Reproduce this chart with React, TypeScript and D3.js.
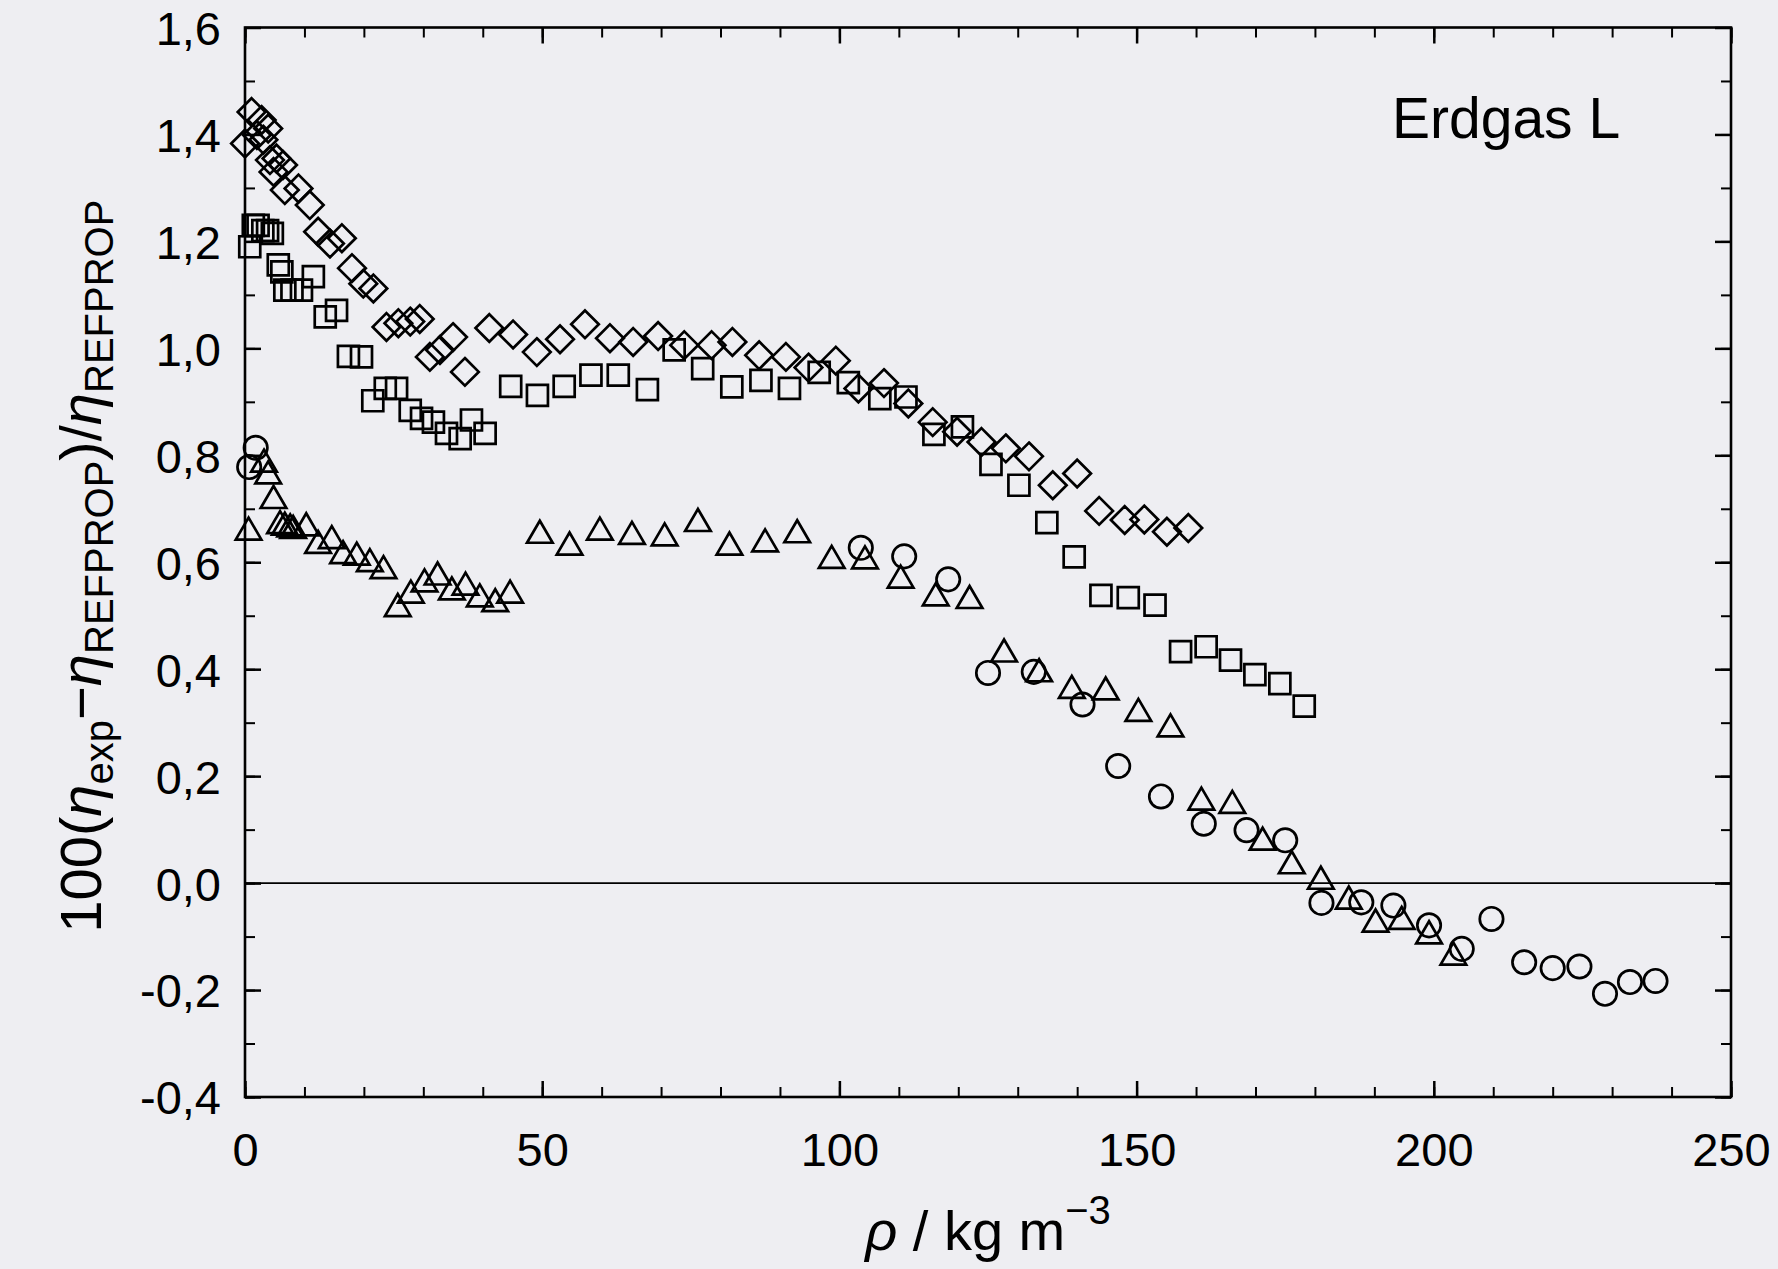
import * as d3 from "d3";
import React, { useEffect, useRef } from "react";

// Diamonds
const diamondRho = [0, 1.1, 2.0, 2.8, 3.1, 3.9, 4.2, 4.8, 5.3, 6.4, 6.7, 9.0, 10.9, 12.3, 14.3, 16.3, 18.0, 19.9, 21.6, 23.8, 25.8, 27.8, 29.4, 31.1, 32.8, 35.0, 37.0, 41.1, 45.1, 49.1, 53.0, 57.2, 61.4, 65.3, 69.5, 73.9, 78.5, 82.0, 86.5, 91.0, 94.8, 99.4, 103.2, 107.5, 111.6, 115.7, 119.8, 123.9, 128.0, 131.9, 135.9, 140.0, 143.7, 148.0, 151.3, 155.1, 158.7];
const diamondDev = [1.383, 1.442, 1.399, 1.427, 1.39, 1.411, 1.352, 1.33, 1.355, 1.343, 1.296, 1.299, 1.268, 1.218, 1.196, 1.206, 1.15, 1.121, 1.112, 1.04, 1.047, 1.05, 1.055, 0.984, 0.997, 1.021, 0.956, 1.038, 1.026, 0.993, 1.017, 1.045, 1.019, 1.012, 1.023, 1.006, 1.006, 1.012, 0.987, 0.984, 0.964, 0.977, 0.925, 0.935, 0.897, 0.862, 0.844, 0.825, 0.813, 0.798, 0.744, 0.766, 0.696, 0.679, 0.68, 0.657, 0.664];

// Squares
const squareRho = [0.8, 1.4, 2.2, 3.0, 3.8, 4.6, 5.6, 6.2, 6.7, 7.9, 9.5, 11.5, 13.5, 15.4, 17.4, 19.6, 21.5, 23.6, 25.5, 27.8, 29.7, 31.7, 33.9, 36.2, 38.1, 40.4, 44.7, 49.2, 53.7, 58.2, 62.8, 67.7, 72.2, 77.0, 81.9, 86.8, 91.6, 96.6, 101.5, 106.8, 111.2, 115.9, 120.7, 125.5, 130.2, 134.9, 139.5, 144.0, 148.6, 153.1, 157.4, 161.7, 165.8, 169.9, 174.1, 178.2];
const squareDev = [1.19, 1.23, 1.23, 1.22, 1.22, 1.215, 1.156, 1.143, 1.109, 1.109, 1.109, 1.134, 1.059, 1.071, 0.985, 0.984, 0.902, 0.925, 0.925, 0.884, 0.869, 0.862, 0.841, 0.831, 0.866, 0.841, 0.929, 0.912, 0.929, 0.95, 0.95, 0.923, 0.997, 0.962, 0.928, 0.94, 0.925, 0.955, 0.936, 0.906, 0.909, 0.839, 0.853, 0.783, 0.744, 0.674, 0.61, 0.538, 0.534, 0.52, 0.433, 0.442, 0.417, 0.39, 0.373, 0.331];

// Triangles
const triangleRho = [0.6, 3.2, 3.9, 4.8, 5.9, 6.7, 7.6, 8.1, 10.3, 12.3, 14.6, 16.5, 18.8, 21.0, 23.3, 25.7, 27.9, 30.2, 32.4, 34.8, 37.1, 39.5, 42.1, 44.6, 49.6, 54.6, 59.7, 65.1, 70.6, 76.2, 81.5, 87.5, 92.9, 98.7, 104.3, 110.3, 116.2, 121.9, 127.7, 133.6, 139.1, 144.8, 150.3, 155.7, 160.9, 166.1, 171.2, 176.1, 181.0, 185.7, 190.2, 194.6, 199.2, 203.3];
const triangleDev = [0.663, 0.79, 0.768, 0.722, 0.675, 0.672, 0.669, 0.666, 0.671, 0.638, 0.647, 0.619, 0.616, 0.604, 0.591, 0.52, 0.545, 0.566, 0.579, 0.551, 0.56, 0.538, 0.529, 0.545, 0.657, 0.635, 0.663, 0.655, 0.652, 0.679, 0.635, 0.641, 0.658, 0.61, 0.609, 0.573, 0.54, 0.535, 0.435, 0.398, 0.367, 0.364, 0.324, 0.295, 0.158, 0.152, 0.083, 0.039, 0.01, -0.027, -0.07, -0.065, -0.092, -0.132];

// Circles
const circleRho = [0.7, 1.8, 103.6, 110.9, 118.3, 125.0, 132.7, 140.9, 146.9, 154.1, 161.3, 168.5, 175.0, 181.1, 187.8, 193.2, 199.2, 204.7, 209.7, 215.2, 220.0, 224.5, 228.8, 233.0, 237.3];
const circleDev = [0.778, 0.814, 0.627, 0.611, 0.568, 0.393, 0.395, 0.334, 0.219, 0.162, 0.111, 0.099, 0.08, -0.037, -0.036, -0.042, -0.079, -0.123, -0.067, -0.148, -0.159, -0.156, -0.207, -0.185, -0.183];

// Tick labels
const xMajorTicks = [0, 50, 100, 150, 200, 250];
const xMinorTicks = d3.range(0, 251, 10);
const yMajorTicks = [-0.4, -0.2, 0, 0.2, 0.4, 0.6, 0.8, 1.0, 1.2, 1.4, 1.6];
const yMinorTicks = d3.range(-4, 17, 1).map((d) => d / 10);

const annotation = "Erdgas L";

const App = () => {
  const ref = useRef<SVGSVGElement>(null);

  useEffect(() => {
    const width = 1778;
    const height = 1269;
    const margin = { top: 27.5, right: 47, bottom: 172, left: 245 };
    const innerW = width - margin.left - margin.right;
    const innerH = height - margin.top - margin.bottom;
    const font = "'Liberation Sans', Arial, Helvetica, sans-serif";

    const svg = d3.select(ref.current);
    svg.selectAll("*").remove();

    svg.append("rect").attr("width", width).attr("height", height).attr("fill", "#eeeef2");

    const g = svg.append("g").attr("transform", `translate(${margin.left},${margin.top})`);

    // Scales
    const x = d3.scaleLinear().domain([0, 250]).range([0, innerW]);
    const y = d3.scaleLinear().domain([-0.4, 1.6]).range([innerH, 0]);

    const fmt = (d: number) => d3.format(".1f")(d).replace(".", ",").replace("−", "-");

    // Minor ticks (all four sides, inward)
    const minor = (axis: any, tr: string) => {
      const a = g.append("g").attr("transform", tr).call(axis);
      a.select(".domain").remove();
      a.selectAll(".tick line").attr("stroke", "#000").attr("stroke-width", 2);
      a.selectAll("text").remove();
    };
    minor(d3.axisBottom(x).tickValues(xMinorTicks).tickSize(-10), `translate(0,${innerH})`);
    minor(d3.axisTop(x).tickValues(xMinorTicks).tickSize(-10), "translate(0,0)");
    minor(d3.axisLeft(y).tickValues(yMinorTicks).tickSize(-10), "translate(0,0)");
    minor(d3.axisRight(y).tickValues(yMinorTicks).tickSize(-10), `translate(${innerW},0)`);

    // Major ticks with labels
    const xAxis = g
      .append("g")
      .attr("transform", `translate(0,${innerH})`)
      .call(d3.axisBottom(x).tickValues(xMajorTicks).tickSize(-16).tickPadding(36).tickFormat(d3.format("d")));
    const yAxis = g
      .append("g")
      .call(d3.axisLeft(y).tickValues(yMajorTicks).tickSize(-16).tickPadding(24).tickFormat((d: any) => fmt(d)));
    const xTop = g.append("g").call(d3.axisTop(x).tickValues(xMajorTicks).tickSize(-16).tickFormat(() => ""));
    const yRight = g
      .append("g")
      .attr("transform", `translate(${innerW},0)`)
      .call(d3.axisRight(y).tickValues(yMajorTicks).tickSize(-16).tickFormat(() => ""));

    [xAxis, yAxis, xTop, yRight].forEach((a) => {
      a.select(".domain").remove();
      a.selectAll(".tick line").attr("stroke", "#000").attr("stroke-width", 2.5);
      a.selectAll("text").attr("font-family", font).attr("font-size", 47).attr("fill", "#000");
    });
    yAxis.selectAll("text").attr("dy", "0.36em");

    // Frame
    g.append("rect")
      .attr("width", innerW)
      .attr("height", innerH)
      .attr("fill", "none")
      .attr("stroke", "#000")
      .attr("stroke-width", 2.6);

    // Zero line
    g.append("line")
      .attr("x1", 0)
      .attr("x2", innerW)
      .attr("y1", y(0))
      .attr("y2", y(0))
      .attr("stroke", "#000")
      .attr("stroke-width", 1.8);

    // Markers
    const markerStyle = (sel: any) =>
      sel.attr("fill", "none").attr("stroke", "#000").attr("stroke-width", 2.7);

    const h = 13.8;
    markerStyle(
      g.append("g")
        .selectAll("path")
        .data(d3.zip(diamondRho, diamondDev))
        .join("path")
        .attr("d", `M0,${-h}L${h},0L0,${h}L${-h},0Z`)
        .attr("transform", (d: number[]) => `translate(${x(d[0])},${y(d[1])})`)
    );

    const s = 10.5;
    markerStyle(
      g.append("g")
        .selectAll("path")
        .data(d3.zip(squareRho, squareDev))
        .join("path")
        .attr("d", `M${-s},${-s}H${s}V${s}H${-s}Z`)
        .attr("transform", (d: number[]) => `translate(${x(d[0])},${y(d[1])})`)
    );

    markerStyle(
      g.append("g")
        .selectAll("path")
        .data(d3.zip(triangleRho, triangleDev))
        .join("path")
        .attr("d", "M0,-11L12.8,11L-12.8,11Z")
        .attr("transform", (d: number[]) => `translate(${x(d[0])},${y(d[1])})`)
    );

    markerStyle(
      g.append("g")
        .selectAll("circle")
        .data(d3.zip(circleRho, circleDev))
        .join("circle")
        .attr("r", 11.7)
        .attr("cx", (d: number[]) => x(d[0]))
        .attr("cy", (d: number[]) => y(d[1]))
    );

    // Annotation
    svg.append("text")
      .attr("x", 1392)
      .attr("y", 138)
      .attr("font-family", font)
      .attr("font-size", 57)
      .attr("fill", "#000")
      .text(annotation);

    // X-axis label
    const xl = svg
      .append("text")
      .attr("x", margin.left + innerW / 2)
      .attr("y", 1250)
      .attr("text-anchor", "middle")
      .attr("font-family", font)
      .attr("font-size", 56)
      .attr("fill", "#000");
    xl.append("tspan").attr("font-style", "italic").text("ρ");
    xl.append("tspan").text(" / kg m");
    xl.append("tspan").attr("font-size", 40).attr("dy", -26).text("−3");

    // Y-axis label
    const yl = svg
      .append("text")
      .attr("transform", `translate(101,${margin.top + innerH / 2 + 4}) rotate(-90)`)
      .attr("text-anchor", "middle")
      .attr("font-family", font)
      .attr("font-size", 58)
      .attr("fill", "#000");
    yl.append("tspan").text("100(");
    yl.append("tspan").attr("font-style", "italic").text("η");
    yl.append("tspan").attr("font-size", 40).attr("dy", 12).text("exp");
    yl.append("tspan").attr("dy", -12).text("−");
    yl.append("tspan").attr("font-style", "italic").text("η");
    yl.append("tspan").attr("font-size", 40).attr("dy", 12).text("REFPROP");
    yl.append("tspan").attr("dy", -12).text(")/");
    yl.append("tspan").attr("font-style", "italic").text("η");
    yl.append("tspan").attr("font-size", 40).attr("dy", 12).text("REFPROP");
  }, []);

  return (
    <div style={{ position: "absolute", left: 0, top: 0 }}>
      <svg ref={ref} width={1778} height={1269} style={{ display: "block" }} />
    </div>
  );
};

export default App;
